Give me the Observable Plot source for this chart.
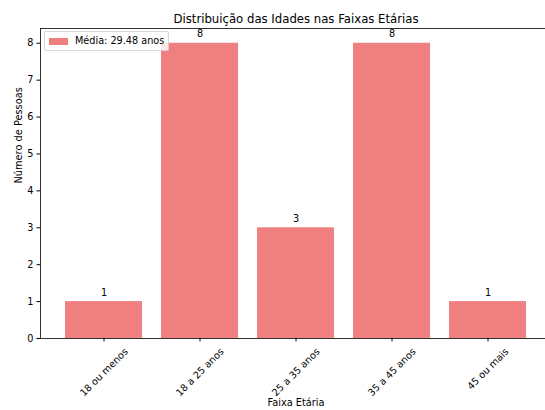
<!DOCTYPE html>
<html>
<head>
<meta charset="utf-8">
<script src="https://cdn.jsdelivr.net/npm/d3@7"></script>
<script src="https://cdn.jsdelivr.net/npm/@observablehq/plot@0.6"></script>
<style>
  html, body { margin: 0; padding: 0; background: white; overflow: hidden; }
  #wrap { position: relative; width: 545px; height: 410px; overflow: hidden; font-family: "DejaVu Sans", sans-serif; }
  #wrap svg { max-width: none !important; display: block; }
  #legend { position: absolute; left: 44px; top: 31px; width: 123px; height: 18px;
    background: rgba(255,255,255,0.8); border: 1px solid rgba(204,204,204,0.8); border-radius: 2px;
    font-size: 9.7px; color: #000; }
  #legend .patch { position: absolute; left: 4px; top: 6px; width: 19px; height: 7px; }
  #legend .lab { position: absolute; left: 30px; top: 0; line-height: 18px; white-space: nowrap; }
</style>
</head>
<body>
<div id="wrap"></div>
<script>
// ---- data ----
const categories = ["18 ou menos", "18 a 25 anos", "25 a 35 anos", "35 a 45 anos", "45 ou mais"];
const counts = [1, 8, 3, 8, 1];
const meanAge = 29.48;
const yTicks = [0, 1, 2, 3, 4, 5, 6, 7, 8];
const titleText = "Distribuição das Idades nas Faixas Etárias";
const xLabel = "Faixa Etária";
const yLabel = "Número de Pessoas";
const legendLabel = `Média: ${meanAge.toFixed(2)} anos`;
const barColor = "#F08080";

const data = categories.map((c, i) => ({cat: c, count: counts[i]}));

// measure label widths for matplotlib-like rotated label placement
const tickFont = 9.7;
const ctx = document.createElement("canvas").getContext("2d");
ctx.font = `${tickFont}px "DejaVu Sans"`;
const h = tickFont * 1.164;
const s2 = 2 * Math.SQRT2;

const tickLabelMarks = categories.map(c => {
  const w = ctx.measureText(c).width;
  return Plot.text([c], {
    x: d => d, frameAnchor: "bottom", text: d => d,
    rotate: -45, textAnchor: "end", lineAnchor: "middle",
    dx: w / s2, dy: 7.5 + h / s2, fontSize: tickFont, fill: "black"
  });
});

const chart = Plot.plot({
  width: 552,
  height: 410,
  marginTop: 28,
  marginBottom: 72,
  marginLeft: 40,
  marginRight: 1,
  style: {fontFamily: "DejaVu Sans", fontSize: `${tickFont}px`, background: "white", color: "black", overflow: "visible", maxWidth: "none"},
  x: {type: "band", domain: categories, paddingInner: 0.2, paddingOuter: 0.24, axis: null},
  y: {domain: [0, 8.4], axis: null},
  marks: [
    Plot.barY(data, {x: "cat", y: "count", fill: barColor}),
    Plot.text(data, {x: "cat", y: "count", text: d => String(d.count), dy: -9, lineAnchor: "middle", fontSize: tickFont, fill: "black"}),
    Plot.frame({stroke: "black", strokeWidth: 0.8}),
    Plot.axisY({ticks: yTicks, tickSize: 3.5, tickPadding: 3.5, label: null, fontSize: tickFont, tickFormat: d => String(d), stroke: "black"}),
    Plot.axisX({tickSize: 3.5, tickFormat: () => "", label: null, stroke: "black"}),
    ...tickLabelMarks,
    Plot.text([yLabel], {frameAnchor: "left", dx: -22, rotate: -90, text: d => d, lineAnchor: "middle", fontSize: 9.8, fill: "black"}),
    Plot.text([xLabel], {frameAnchor: "bottom", dy: 64, text: d => d, lineAnchor: "middle", fontSize: 9.8, fill: "black"}),
    Plot.text([titleText], {frameAnchor: "top", dy: -9, text: d => d, lineAnchor: "middle", fontSize: 11.7, fill: "black"})
  ]
});

const wrap = document.getElementById("wrap");
wrap.appendChild(chart);

const legend = document.createElement("div");
legend.id = "legend";
legend.innerHTML = `<div class="patch" style="background:${barColor}"></div><div class="lab"></div>`;
legend.querySelector(".lab").textContent = legendLabel;
wrap.appendChild(legend);
</script>
</body>
</html>
